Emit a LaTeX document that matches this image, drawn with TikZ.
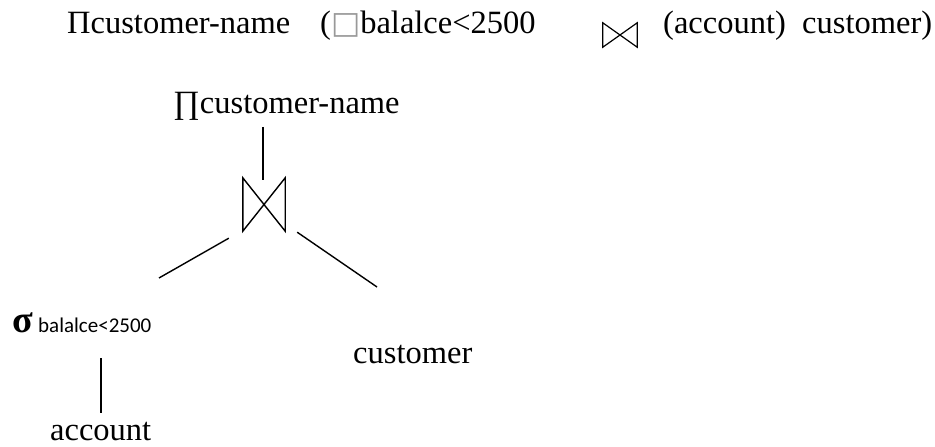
\documentclass[tikz,border=0pt]{standalone}
\usepackage{fontspec}
\setmainfont{Liberation Serif}
\newfontfamily\carl{Carlito}
\newfontfamily\dejav{DejaVu Sans}
\usetikzlibrary{calc}
\begin{document}
\begin{tikzpicture}[x=1pt,y=-1pt,
  txt/.style={inner sep=0pt, anchor=base west, font=\fontsize{32.5}{37}\selectfont},
  subtxt/.style={inner sep=0pt, anchor=base west, font=\carl\fontsize{21}{24}\selectfont},
  edge/.style={line width=1.4pt},
  joinbox/.style={inner sep=0pt, minimum width=42pt, minimum height=53pt}]
\useasboundingbox (0,0) rectangle (935,447);
% top expression
\node[txt] (t1) at (67,33) {Πcustomer-name};
\node[txt] (t2) at (320,33) {(\textcolor{gray!80}{\dejav\fontsize{31}{34}\selectfont □}balalce<2500};
\node[joinbox, minimum width=34pt, minimum height=24pt] (sj) at (620,35) {};
\draw[line width=1.2pt] (sj.north west) -- (sj.south east) -- (sj.north east) -- (sj.south west) -- cycle;
\node[txt] (t3) at (663,33) {(account)};
\node[txt] (t4) at (802,33) {customer)};
% tree
\node[txt] (pi) at (173,113) {∏customer-name};
\node[joinbox] (j) at (264,204.5) {};
\draw[edge] (j.north west) -- (j.south east) -- (j.north east) -- (j.south west) -- cycle;
\node[txt, font=\bfseries\fontsize{38}{42}\selectfont] (sig) at (12,332) {σ};
\node[subtxt] (sub) at (38,332) {balalce<2500};
\node[txt] (acc) at (50,440) {account};
\node[txt] (cus) at (353,363) {customer};
% connectors
\draw[edge] ($(j.north)+(-1,-51)$) -- ($(j.north)+(-1,2)$);
\draw[edge] ($(j.south west)+(-14,7)$) -- ($(sig.base west)+(147,-54)$);
\draw[edge] ($(j.south east)+(12,1)$) -- ($(cus.base west)+(24,-76)$);
\draw[edge] ($(sig.base west)+(89,26)$) -- ($(acc.base west)+(51,-27)$);
\end{tikzpicture}
\end{document}
